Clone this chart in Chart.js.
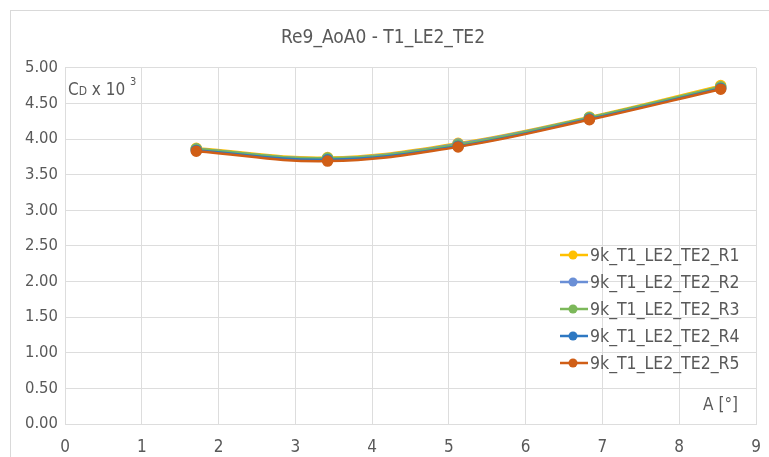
<!DOCTYPE html>
<html>
<head>
<meta charset="utf-8">
<script src="https://cdn.jsdelivr.net/npm/chart.js@4"></script>
<style>
  html, body { margin: 0; padding: 0; background: #fff; }
  #wrap { position: absolute; left: 0; top: 0; width: 769px; height: 457px; }
</style>
</head>
<body>
<div id="wrap"><canvas id="chart" width="769" height="457"></canvas></div>
<script>
const angulos = [1.71, 3.42, 5.12, 6.83, 8.54];
const nomes = ['9k_T1_LE2_TE2_R1', '9k_T1_LE2_TE2_R2', '9k_T1_LE2_TE2_R3', '9k_T1_LE2_TE2_R4', '9k_T1_LE2_TE2_R5'];
const r1 = [3.87, 3.74, 3.94, 4.31, 4.75];
const r2 = [3.86, 3.73, 3.93, 4.30, 4.73];
const r3 = [3.86, 3.73, 3.92, 4.30, 4.73];
const r4 = [3.84, 3.71, 3.90, 4.28, 4.71];
const r5 = [3.83, 3.69, 3.89, 4.27, 4.70];
const cores = ['#FFC000', '#6A8FD6', '#7CB85A', '#2E78C2', '#D05E16'];
const xTicks = [0, 1, 2, 3, 4, 5, 6, 7, 8, 9];

const FONTE = "'Liberation Sans Narrow', 'DejaVu Sans Condensed', sans-serif";
const CINZA = '#595959';

const series = [r1, r2, r3, r4, r5];

// moldura externa do gráfico
const moldura = {
  id: 'moldura',
  beforeDraw(chart) {
    const ctx = chart.ctx;
    ctx.save();
    ctx.fillStyle = '#fff';
    ctx.fillRect(0, 0, chart.width, chart.height);
    ctx.strokeStyle = '#D9D9D9';
    ctx.lineWidth = 1;
    ctx.strokeRect(10.5, 10.5, chart.width, chart.height);
    ctx.restore();
  }
};

// títulos dos eixos e legenda dentro da área do gráfico
const extras = {
  id: 'extras',
  afterDraw(chart) {
    const ctx = chart.ctx;
    const area = chart.chartArea;
    ctx.save();
    ctx.fillStyle = CINZA;
    ctx.textBaseline = 'alphabetic';
    ctx.textAlign = 'left';

    let x = area.left + 3;
    const y = area.top + 27;
    ctx.font = '17px ' + FONTE;
    ctx.fillText('C', x, y);
    x += ctx.measureText('C').width;
    ctx.font = '12px ' + FONTE;
    ctx.fillText('D', x, y);
    x += ctx.measureText('D').width;
    ctx.font = '17px ' + FONTE;
    ctx.fillText(' x 10 ', x, y);
    x += ctx.measureText(' x 10 ').width;
    ctx.font = '11px ' + FONTE;
    ctx.fillText('3', x, y - 10);

    ctx.font = '17px ' + FONTE;
    ctx.textAlign = 'right';
    ctx.fillText('A [°]', area.right - 18, area.bottom - 14);

    // legenda
    ctx.textAlign = 'left';
    ctx.textBaseline = 'middle';
    chart.data.datasets.forEach((ds, i) => {
      const ly = 255 + i * 27;
      ctx.strokeStyle = ds.borderColor;
      ctx.lineWidth = 2.5;
      ctx.beginPath();
      ctx.moveTo(560, ly);
      ctx.lineTo(588, ly);
      ctx.stroke();
      ctx.fillStyle = ds.borderColor;
      ctx.beginPath();
      ctx.arc(573, ly, 4.5, 0, Math.PI * 2);
      ctx.fill();
      ctx.fillStyle = CINZA;
      ctx.font = '17.5px ' + FONTE;
      ctx.fillText(ds.label, 590, ly + 1);
    });
    ctx.restore();
  }
};

new Chart(document.getElementById('chart'), {
  type: 'line',
  data: {
    datasets: series.map((s, i) => ({
      label: nomes[i],
      data: s.map((v, j) => ({ x: angulos[j], y: v })),
      borderColor: cores[i],
      backgroundColor: cores[i],
      borderWidth: 2.5,
      pointRadius: 4.5,
      pointHoverRadius: 4.5,
      tension: 0.4,
      order: 4 - i
    }))
  },
  options: {
    responsive: false,
    animation: false,
    layout: { padding: { left: 10, right: 13, top: 10, bottom: 4 } },
    plugins: {
      legend: { display: false },
      tooltip: { enabled: false },
      title: {
        display: true,
        text: 'Re9_AoA0 - T1_LE2_TE2',
        color: CINZA,
        font: { family: FONTE, size: 19, weight: 'normal' },
        padding: { top: 17, bottom: 18 }
      }
    },
    scales: {
      x: {
        type: 'linear',
        min: 0,
        max: 9,
        afterBuildTicks: (s) => { s.ticks = xTicks.map(v => ({ value: v })); },
        afterFit: (s) => { s.height = 29; s.paddingLeft = 0; s.paddingRight = 0; },
        grid: { color: '#DDDDDD', drawTicks: false },
        border: { color: '#DDDDDD' },
        ticks: {
          color: CINZA,
          font: { family: FONTE, size: 17 },
          padding: 13,
          maxRotation: 0
        }
      },
      y: {
        min: 0,
        max: 5,
        afterFit: (s) => { s.width = 55; },
        grid: { color: '#DDDDDD', drawTicks: false },
        border: { color: '#DDDDDD' },
        ticks: {
          stepSize: 0.5,
          color: CINZA,
          font: { family: FONTE, size: 16.5 },
          padding: 7,
          callback: (v) => v.toFixed(2)
        }
      }
    }
  },
  plugins: [moldura, extras]
});
</script>
</body>
</html>
